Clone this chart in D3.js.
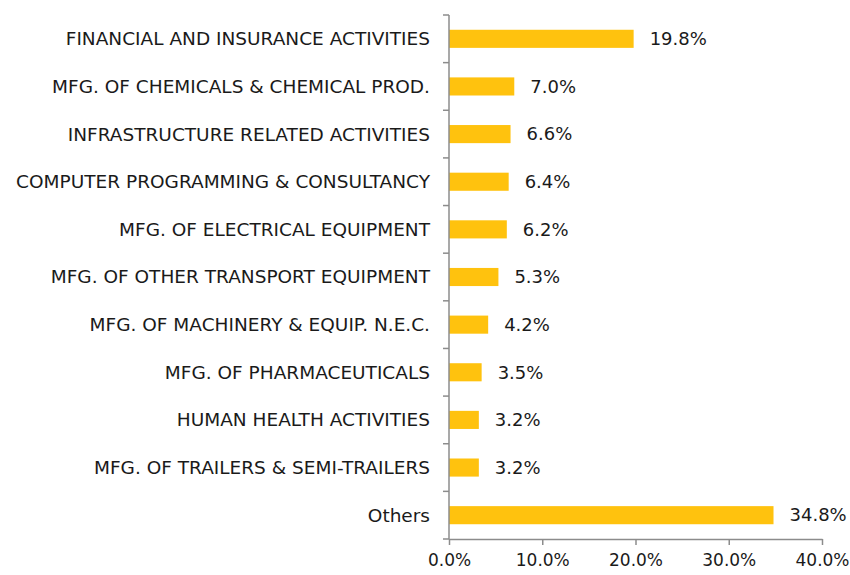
<!DOCTYPE html>
<html>
<head>
<meta charset="utf-8">
<script src="https://cdn.jsdelivr.net/npm/d3@7"></script>
<style>
  body { margin: 0; background: #fff; }
  text { font-family: "DejaVu Sans", sans-serif; fill: #1a1a1a; }
</style>
</head>
<body>
<div id="chart"></div>
<script>
// sector shares, top to bottom
var sectors = [
  "FINANCIAL AND INSURANCE ACTIVITIES",
  "MFG. OF CHEMICALS & CHEMICAL PROD.",
  "INFRASTRUCTURE RELATED ACTIVITIES",
  "COMPUTER PROGRAMMING & CONSULTANCY",
  "MFG. OF ELECTRICAL EQUIPMENT",
  "MFG. OF OTHER TRANSPORT EQUIPMENT",
  "MFG. OF MACHINERY & EQUIP. N.E.C.",
  "MFG. OF PHARMACEUTICALS",
  "HUMAN HEALTH ACTIVITIES",
  "MFG. OF TRAILERS & SEMI-TRAILERS",
  "Others"
];
var shares = [19.8, 7.0, 6.6, 6.4, 6.2, 5.3, 4.2, 3.5, 3.2, 3.2, 34.8];
var xTicks = [0, 10, 20, 30, 40];

var W = 850, H = 575;
var margin = { top: 15, right: 28, bottom: 36, left: 449 };
var fs = 18.5;

var svg = d3.select("#chart").append("svg")
    .attr("width", W)
    .attr("height", H);

var x = d3.scaleLinear()
    .domain([0, 40])
    .range([margin.left, W - margin.right]);

var y = d3.scaleBand()
    .domain(sectors)
    .range([margin.top, H - margin.bottom])
    .paddingInner(0.62)
    .paddingOuter(0.31);

var data = sectors.map((s, i) => ({ name: s, value: shares[i] }));

// bars
svg.append("g").selectAll("rect")
    .data(data)
    .join("rect")
    .attr("x", x(0))
    .attr("y", d => y(d.name))
    .attr("width", d => x(d.value) - x(0))
    .attr("height", y.bandwidth())
    .attr("fill", "#ffc20e");

// value labels
svg.append("g").selectAll("text")
    .data(data)
    .join("text")
    .attr("x", d => x(d.value) + 16)
    .attr("y", d => y(d.name) + y.bandwidth() / 2)
    .attr("dy", "0.35em")
    .attr("font-size", 18)
    .text(d => d.value.toFixed(1) + "%");

// y axis: ticks between categories
var yAxisG = svg.append("g")
    .attr("transform", `translate(${margin.left},0)`);
yAxisG.append("line")
    .attr("y1", margin.top).attr("y2", H - margin.bottom)
    .attr("stroke", "#8c8c8c").attr("stroke-width", 1.5);
var step = (H - margin.top - margin.bottom) / sectors.length;
yAxisG.selectAll("line.tk")
    .data(d3.range(sectors.length + 1))
    .join("line")
    .attr("class", "tk")
    .attr("x1", -6).attr("x2", 0)
    .attr("y1", i => margin.top + i * step)
    .attr("y2", i => margin.top + i * step)
    .attr("stroke", "#8c8c8c").attr("stroke-width", 1.5);
yAxisG.selectAll("text")
    .data(sectors)
    .join("text")
    .attr("x", -19)
    .attr("y", d => y(d) + y.bandwidth() / 2)
    .attr("dy", "0.35em")
    .attr("text-anchor", "end")
    .attr("font-size", fs)
    .text(d => d);

// x axis
var xAxisG = svg.append("g")
    .attr("transform", `translate(0,${H - margin.bottom})`)
    .call(d3.axisBottom(x).tickValues(xTicks).tickSize(6).tickSizeOuter(0)
        .tickFormat(d => d.toFixed(1) + "%"));
xAxisG.select(".domain").attr("stroke", "#8c8c8c").attr("stroke-width", 1.5);
xAxisG.selectAll(".tick line").attr("stroke", "#8c8c8c").attr("stroke-width", 1.5);
xAxisG.selectAll(".tick text")
    .attr("font-size", 17)
    .attr("font-family", "DejaVu Sans, sans-serif")
    .attr("fill", "#1a1a1a")
    .attr("dy", "1.05em");
</script>
</body>
</html>
